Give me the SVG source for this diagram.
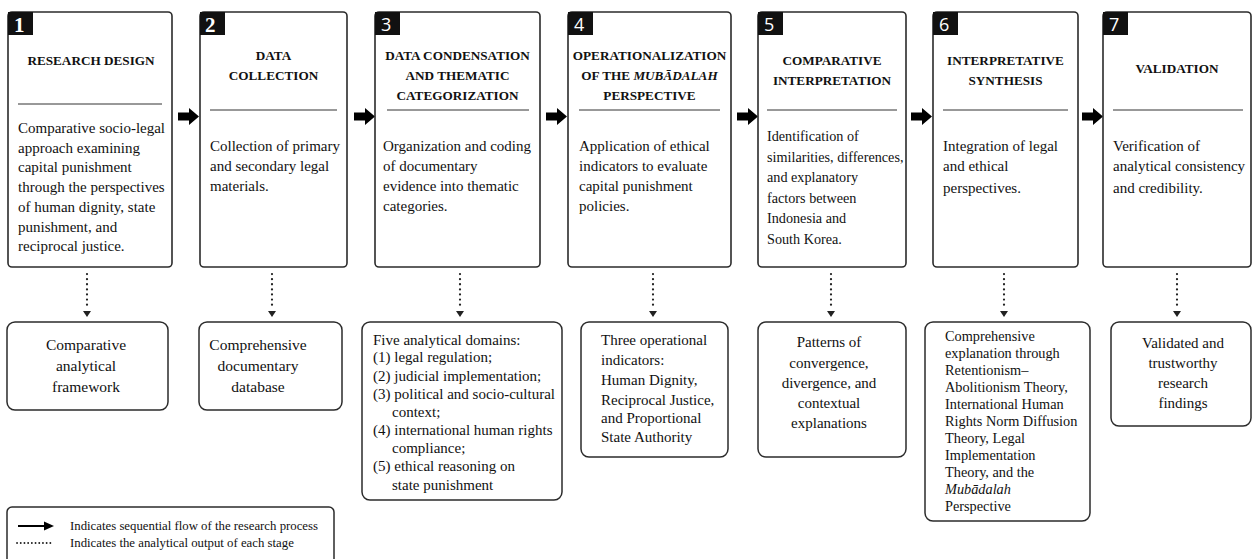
<svg xmlns="http://www.w3.org/2000/svg" width="1253" height="559" viewBox="0 0 1253 559">
<defs>
<style>
.stage{fill:#fff;stroke:#2b2b2b;stroke-width:1.6}
.out{fill:#fff;stroke:#2b2b2b;stroke-width:1.5}
.tag{fill:#111}
.num{fill:#fff;font-family:"Liberation Serif",serif;font-weight:bold;font-size:21px}
.nums{fill:#fff;font-family:"Open Sans","Liberation Sans",sans-serif;font-size:18px}
.ttl{font-family:"Liberation Serif",serif;font-weight:bold;font-size:13.2px;fill:#111;text-anchor:middle}
.body{font-family:"Liberation Serif",serif;font-size:15px;fill:#111}
.ctr{text-anchor:middle}
.div{stroke:#333;stroke-width:1}
.dot{stroke:#222;stroke-width:2.2;stroke-dasharray:0.1 5;stroke-linecap:round;fill:none}
.leg{font-family:"Liberation Serif",serif;font-size:12.8px;fill:#111}
</style>
<path id="blk" d="M0,-4 H11 V-8.5 L21,0 L11,8.5 V4 H0 Z" fill="#000"/>
<path id="ah" d="M-4,0 L4,0 L0,6 Z" fill="#222"/>
</defs>
<rect width="1253" height="559" fill="#fff"/>

<g id="connectors">
<use href="#blk" x="178" y="116.5"/>
<use href="#blk" x="354" y="116.5"/>
<use href="#blk" x="546" y="116.5"/>
<use href="#blk" x="737" y="116.5"/>
<use href="#blk" x="911" y="116.5"/>
<use href="#blk" x="1082" y="116.5"/>
<line class="dot" x1="87" y1="274" x2="87" y2="309"/><use href="#ah" x="87" y="311"/>
<line class="dot" x1="272" y1="274" x2="272" y2="309"/><use href="#ah" x="272" y="311"/>
<line class="dot" x1="460" y1="274" x2="460" y2="309"/><use href="#ah" x="460" y="311"/>
<line class="dot" x1="653" y1="274" x2="653" y2="309"/><use href="#ah" x="653" y="311"/>
<line class="dot" x1="831" y1="274" x2="831" y2="309"/><use href="#ah" x="831" y="311"/>
<line class="dot" x1="1004" y1="274" x2="1004" y2="309"/><use href="#ah" x="1004" y="311"/>
<line class="dot" x1="1177" y1="274" x2="1177" y2="309"/><use href="#ah" x="1177" y="311"/>
</g>

<g id="stage1">
<rect class="stage" x="8" y="12" width="164" height="255" rx="4"/>
<rect class="tag" x="8" y="12" width="25" height="23"/>
<text class="num" x="14" y="32">1</text>
<text class="ttl" x="91" y="65">RESEARCH DESIGN</text>
<line class="div" x1="18" y1="104" x2="162" y2="104"/>
<text class="body"><tspan x="18" y="133">Comparative socio-legal</tspan><tspan x="18" y="152.7">approach examining</tspan><tspan x="18" y="172.4">capital punishment</tspan><tspan x="18" y="192.1">through the perspectives</tspan><tspan x="18" y="211.8">of human dignity, state</tspan><tspan x="18" y="231.5">punishment, and</tspan><tspan x="18" y="251.2">reciprocal justice.</tspan></text>
</g>

<g id="stage2">
<rect class="stage" x="200" y="12" width="147" height="255" rx="4"/>
<rect class="tag" x="200" y="12" width="25" height="23"/>
<text class="num" x="205" y="32">2</text>
<text class="ttl" x="273.5" y="59.5">DATA</text>
<text class="ttl" x="273.5" y="79.5">COLLECTION</text>
<line class="div" x1="210" y1="110" x2="337" y2="110"/>
<text class="body"><tspan x="210" y="150.5">Collection of primary</tspan><tspan x="210" y="171">and secondary legal</tspan><tspan x="210" y="191">materials.</tspan></text>
</g>

<g id="stage3">
<rect class="stage" x="375" y="12" width="165" height="255" rx="4"/>
<rect class="tag" x="375" y="12" width="25" height="23"/>
<text class="nums" x="381" y="31">3</text>
<text class="ttl" x="457.5" y="59.5">DATA CONDENSATION</text>
<text class="ttl" x="457.5" y="79.5">AND THEMATIC</text>
<text class="ttl" x="457.5" y="99.5">CATEGORIZATION</text>
<line class="div" x1="387" y1="110" x2="529" y2="110"/>
<text class="body"><tspan x="383" y="150.5">Organization and coding</tspan><tspan x="383" y="171">of documentary</tspan><tspan x="383" y="191">evidence into thematic</tspan><tspan x="383" y="211">categories.</tspan></text>
</g>

<g id="stage4">
<rect class="stage" x="568" y="12" width="163" height="255" rx="4"/>
<rect class="tag" x="568" y="12" width="25" height="23"/>
<text class="nums" x="574" y="31">4</text>
<text class="ttl" x="649.5" y="59.5">OPERATIONALIZATION</text>
<text class="ttl" x="649.5" y="79.5">OF THE <tspan font-style="italic">MUBĀDALAH</tspan></text>
<text class="ttl" x="649.5" y="99.5">PERSPECTIVE</text>
<line class="div" x1="579" y1="110" x2="720" y2="110"/>
<text class="body"><tspan x="579" y="150.5">Application of ethical</tspan><tspan x="579" y="171">indicators to evaluate</tspan><tspan x="579" y="191">capital punishment</tspan><tspan x="579" y="211">policies.</tspan></text>
</g>

<g id="stage5">
<rect class="stage" x="758" y="12" width="148" height="255" rx="4"/>
<rect class="tag" x="758" y="12" width="25" height="23"/>
<text class="nums" x="764" y="31">5</text>
<text class="ttl" x="832" y="64.5">COMPARATIVE</text>
<text class="ttl" x="832" y="84.5">INTERPRETATION</text>
<line class="div" x1="767" y1="110" x2="897" y2="110"/>
<text class="body" style="font-size:14.2px"><tspan x="767" y="141">Identification of</tspan><tspan x="767" y="161.5">similarities, differences,</tspan><tspan x="767" y="182">and explanatory</tspan><tspan x="767" y="202.5">factors between</tspan><tspan x="767" y="223">Indonesia and</tspan><tspan x="767" y="243.5">South Korea.</tspan></text>
</g>

<g id="stage6">
<rect class="stage" x="933" y="12" width="145" height="255" rx="4"/>
<rect class="tag" x="933" y="12" width="25" height="23"/>
<text class="nums" x="939" y="31">6</text>
<text class="ttl" x="1005.5" y="64.5">INTERPRETATIVE</text>
<text class="ttl" x="1005.5" y="84.5">SYNTHESIS</text>
<line class="div" x1="943" y1="110" x2="1068" y2="110"/>
<text class="body"><tspan x="943" y="150.5">Integration of legal</tspan><tspan x="943" y="171">and ethical</tspan><tspan x="943" y="193">perspectives.</tspan></text>
</g>

<g id="stage7">
<rect class="stage" x="1103" y="12" width="148" height="255" rx="4"/>
<rect class="tag" x="1103" y="12" width="25" height="23"/>
<text class="nums" x="1109" y="31">7</text>
<text class="ttl" x="1177" y="73">VALIDATION</text>
<line class="div" x1="1113" y1="110" x2="1243" y2="110"/>
<text class="body"><tspan x="1113" y="150.5">Verification of</tspan><tspan x="1113" y="171">analytical consistency</tspan><tspan x="1113" y="193">and credibility.</tspan></text>
</g>

<g id="output1">
<rect class="out" x="7" y="322" width="161" height="88" rx="8"/>
<text class="body ctr" style="font-size:15.5px"><tspan x="86" y="350">Comparative</tspan><tspan x="86" y="371">analytical</tspan><tspan x="86" y="392">framework</tspan></text>
</g>

<g id="output2">
<rect class="out" x="199" y="322" width="143" height="88" rx="8"/>
<text class="body ctr" style="font-size:15.5px"><tspan x="258" y="350">Comprehensive</tspan><tspan x="258" y="371">documentary</tspan><tspan x="258" y="392">database</tspan></text>
</g>

<g id="output3">
<rect class="out" x="362" y="322" width="200" height="178" rx="8"/>
<text class="body"><tspan x="373" y="344.5">Five analytical domains:</tspan><tspan x="373" y="362">(1) legal regulation;</tspan><tspan x="373" y="380.5">(2) judicial implementation;</tspan><tspan x="373" y="398.5">(3) political and socio-cultural</tspan><tspan x="392" y="417">context;</tspan><tspan x="373" y="435">(4) international human rights</tspan><tspan x="392" y="453">compliance;</tspan><tspan x="373" y="471">(5) ethical reasoning on</tspan><tspan x="392" y="489.5">state punishment</tspan></text>
</g>

<g id="output4">
<rect class="out" x="581" y="322" width="147" height="135" rx="8"/>
<text class="body"><tspan x="601" y="345">Three operational</tspan><tspan x="601" y="365">indicators:</tspan><tspan x="601" y="385">Human Dignity,</tspan><tspan x="601" y="405">Reciprocal Justice,</tspan><tspan x="601" y="423">and Proportional</tspan><tspan x="601" y="442">State Authority</tspan></text>
</g>

<g id="output5">
<rect class="out" x="758" y="322" width="148" height="135" rx="8"/>
<text class="body ctr"><tspan x="829" y="347">Patterns of</tspan><tspan x="829" y="367.5">convergence,</tspan><tspan x="829" y="388">divergence, and</tspan><tspan x="829" y="408">contextual</tspan><tspan x="829" y="428">explanations</tspan></text>
</g>

<g id="output6">
<rect class="out" x="925" y="322" width="165" height="199" rx="8"/>
<text class="body" style="font-size:14.3px"><tspan x="945" y="341">Comprehensive</tspan><tspan x="945" y="358">explanation through</tspan><tspan x="945" y="375">Retentionism–</tspan><tspan x="945" y="392">Abolitionism Theory,</tspan><tspan x="945" y="409">International Human</tspan><tspan x="945" y="426">Rights Norm Diffusion</tspan><tspan x="945" y="443">Theory, Legal</tspan><tspan x="945" y="460">Implementation</tspan><tspan x="945" y="477">Theory, and the</tspan><tspan x="945" y="494" font-style="italic">Mubādalah</tspan><tspan x="945" y="511">Perspective</tspan></text>
</g>

<g id="output7">
<rect class="out" x="1111" y="322" width="140" height="104" rx="8"/>
<text class="body ctr"><tspan x="1183" y="347.5">Validated and</tspan><tspan x="1183" y="368">trustworthy</tspan><tspan x="1183" y="388">research</tspan><tspan x="1183" y="408">findings</tspan></text>
</g>

<g id="legend">
<rect class="out" x="7" y="507" width="327" height="70" rx="5"/>
<line x1="18" y1="526" x2="46" y2="526" stroke="#000" stroke-width="2"/>
<path d="M44,521.5 L54,526 L44,530.5 Z" fill="#000"/>
<text class="leg" x="70" y="530">Indicates sequential flow of the research process</text>
<line x1="17" y1="543" x2="53" y2="543" stroke="#222" stroke-width="1.8" stroke-dasharray="0.1 3.6" stroke-linecap="round"/>
<text class="leg" x="70" y="547">Indicates the analytical output of each stage</text>
</g>
</svg>
